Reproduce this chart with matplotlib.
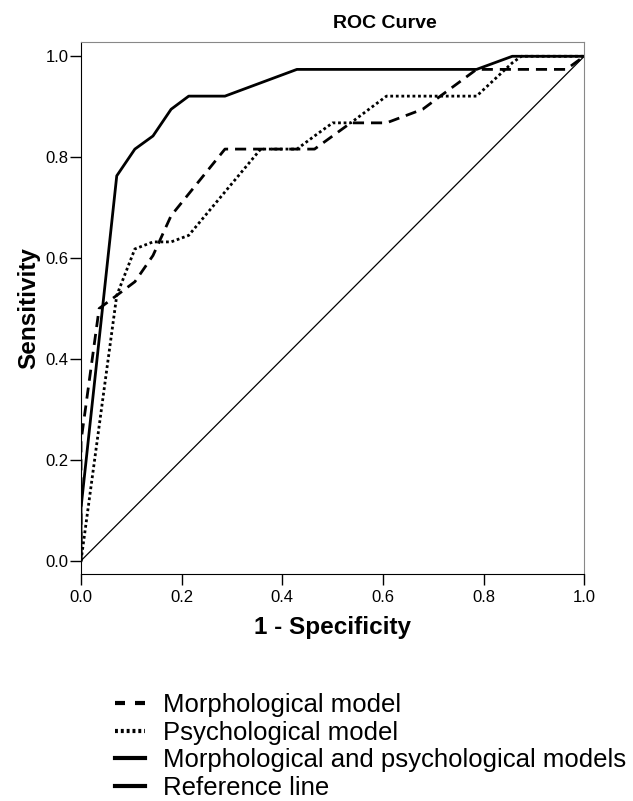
import matplotlib.pyplot as plt
from matplotlib.lines import Line2D

plt.rcParams["font.family"] = ["Liberation Sans", "DejaVu Sans"]

# ROC points (1 - specificity, sensitivity)
morph_fpr = [0.0, 0.0, 0.036, 0.071, 0.107, 0.143, 0.179, 0.286, 0.464, 0.5, 0.536, 0.607, 0.679, 0.714, 0.786, 0.964, 1.0]
morph_tpr = [0.0, 0.237, 0.5, 0.526, 0.553, 0.605, 0.684, 0.816, 0.816, 0.842, 0.868, 0.868, 0.895, 0.921, 0.974, 0.974, 1.0]

psych_fpr = [0.0, 0.071, 0.107, 0.143, 0.179, 0.214, 0.357, 0.429, 0.464, 0.5, 0.536, 0.607, 0.786, 0.857, 0.875, 1.0]
psych_tpr = [0.0, 0.526, 0.618, 0.632, 0.632, 0.645, 0.816, 0.816, 0.842, 0.868, 0.868, 0.921, 0.921, 0.987, 1.0, 1.0]

comb_fpr = [0.0, 0.0, 0.071, 0.107, 0.143, 0.179, 0.214, 0.286, 0.429, 0.786, 0.857, 1.0]
comb_tpr = [0.0, 0.105, 0.763, 0.816, 0.842, 0.895, 0.921, 0.921, 0.974, 0.974, 1.0, 1.0]

ref_x = [0.0, 1.0]
ref_y = [0.0, 1.0]

ticks = [0.0, 0.2, 0.4, 0.6, 0.8, 1.0]
labels = ["Morphological model", "Psychological model",
          "Morphological and psychological models", "Reference line"]

fig = plt.figure(figsize=(6.33, 8.01), dpi=100)
ax = fig.add_axes([0.128, 0.283, 0.795, 0.665])

ax.plot(ref_x, ref_y, color="black", linewidth=0.9)
ax.plot(morph_fpr, morph_tpr, color="black", linewidth=2.0, linestyle=(0, (4, 2.5)))
ax.plot(psych_fpr, psych_tpr, color="black", linewidth=2.0, linestyle=(0, (1, 1)))
ax.plot(comb_fpr, comb_tpr, color="black", linewidth=2.0)

ax.set_xlim(0, 1.0)
ax.set_ylim(-0.027, 1.029)
ax.set_xticks(ticks)
ax.set_yticks(ticks)
ax.set_xticklabels([f"{t:.1f}" for t in ticks])
ax.set_yticklabels([f"{t:.1f}" for t in ticks])
ax.tick_params(direction="out", length=8, width=1, labelsize=12, color="black")
ax.tick_params(axis="x", pad=3)
ax.tick_params(axis="y", pad=1)

for side in ["top", "right"]:
    ax.spines[side].set_color("#888888")
for side in ["left", "bottom"]:
    ax.spines[side].set_color("black")

fig.text(0.608, 0.971, "ROC Curve", fontsize=14, fontweight="bold",
         ha="center", va="center")
ax.set_xlabel("1 - Specificity", fontsize=17.5, fontweight="bold", labelpad=8)
ax.set_ylabel("Sensitivity", fontsize=17.5, fontweight="bold", labelpad=4)

handles = [
    Line2D([], [], color="black", linewidth=3, linestyle=(0, (2.4, 2.4))),
    Line2D([], [], color="black", linewidth=3, linestyle=(0, (0.7, 0.7))),
    Line2D([], [], color="black", linewidth=3),
    Line2D([], [], color="black", linewidth=3),
]
fig.legend(handles, labels, loc="center left", bbox_to_anchor=(0.166, 0.068),
           frameon=False, fontsize=18.5, handlelength=1.17, handletextpad=0.7,
           labelspacing=0.15, borderaxespad=0)

fig.savefig("out.png", dpi=100)
